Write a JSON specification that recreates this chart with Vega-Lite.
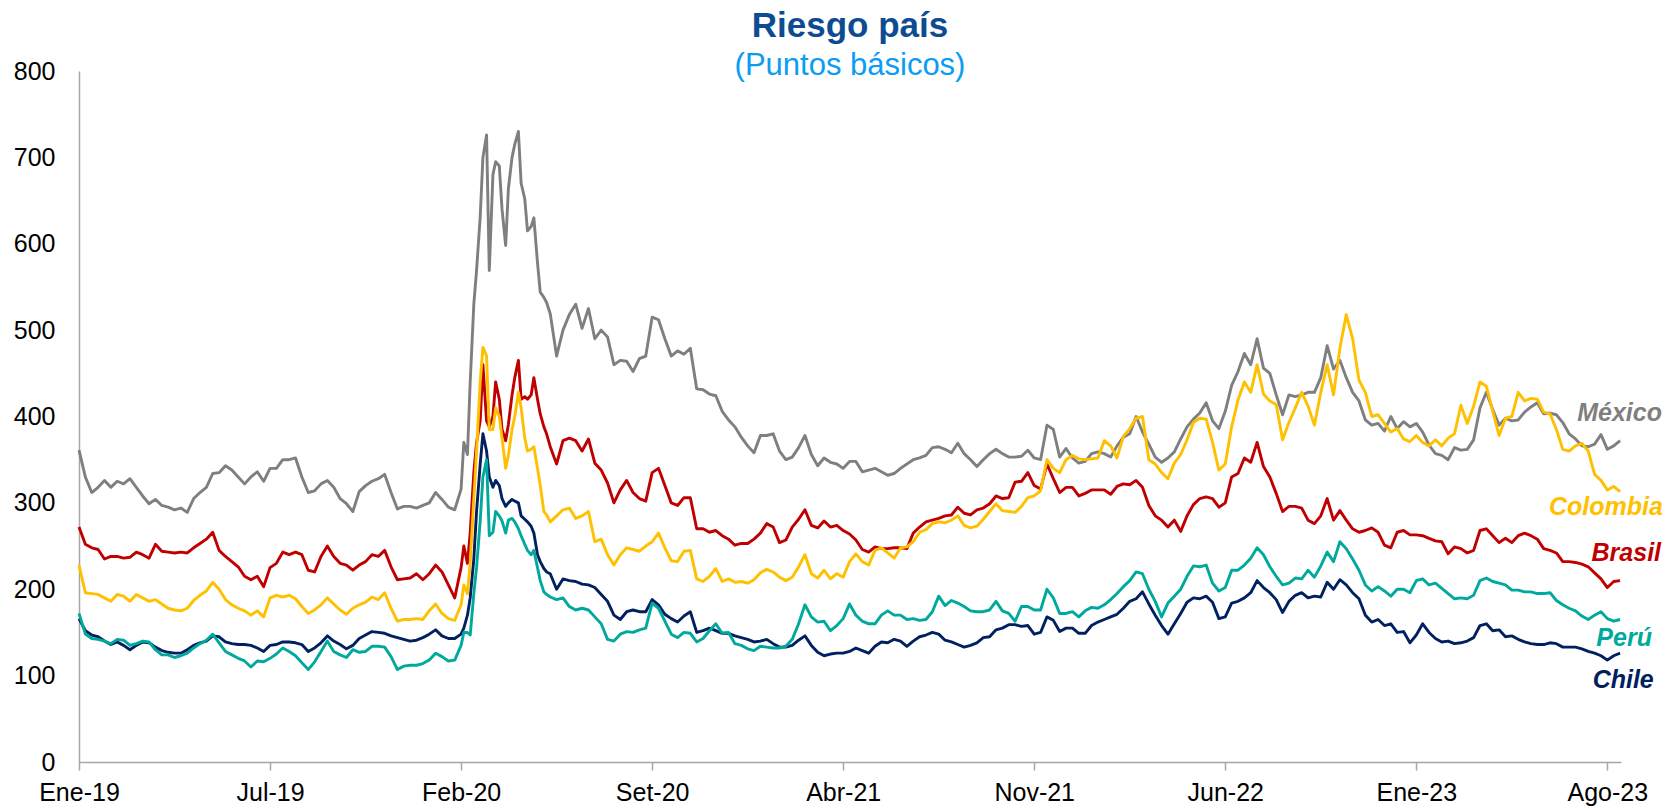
{
"$schema":"https://vega.github.io/schema/vega-lite/v6.json",
"width":1542,"height":691,
"autosize":"none",
"padding":{"left":79,"top":71,"right":46,"bottom":44},
"background":"white",
"config":{"view":{"stroke":null},"font":"Liberation Sans"},
"title":{"text":"Riesgo país","subtitle":"(Puntos básicos)","anchor":"middle","frame":"group","font":"Liberation Sans","fontSize":35,"fontWeight":"bold","color":"#0E4C92","subtitleFont":"Liberation Sans","subtitleFontSize":31,"subtitleColor":"#0B9CF4","subtitlePadding":7,"offset":-22},
"layer":[
{
"data":{"values":[
{"d":"2019-01-01","M":361,"C":228,"B":272,"P":172,"H":166},
{"d":"2019-01-08","M":330,"C":196,"B":252,"P":148,"H":152},
{"d":"2019-01-15","M":312,"C":195,"B":248,"P":143,"H":147},
{"d":"2019-01-22","M":318,"C":194,"B":246,"P":142,"H":145},
{"d":"2019-01-29","M":326,"C":190,"B":235,"P":140,"H":140},
{"d":"2019-02-05","M":318,"C":186,"B":238,"P":137,"H":136},
{"d":"2019-02-12","M":325,"C":194,"B":238,"P":142,"H":139},
{"d":"2019-02-19","M":322,"C":192,"B":236,"P":141,"H":135},
{"d":"2019-02-26","M":328,"C":186,"B":237,"P":135,"H":130},
{"d":"2019-03-05","M":318,"C":194,"B":243,"P":137,"H":135},
{"d":"2019-03-12","M":308,"C":190,"B":240,"P":140,"H":139},
{"d":"2019-03-19","M":299,"C":186,"B":236,"P":139,"H":138},
{"d":"2019-03-26","M":304,"C":188,"B":252,"P":130,"H":133},
{"d":"2019-04-02","M":297,"C":183,"B":244,"P":124,"H":129},
{"d":"2019-04-09","M":295,"C":178,"B":243,"P":124,"H":127},
{"d":"2019-04-16","M":292,"C":176,"B":242,"P":121,"H":126},
{"d":"2019-04-23","M":294,"C":175,"B":243,"P":123,"H":126},
{"d":"2019-04-30","M":289,"C":178,"B":242,"P":126,"H":130},
{"d":"2019-05-07","M":305,"C":187,"B":248,"P":132,"H":135},
{"d":"2019-05-14","M":312,"C":193,"B":253,"P":137,"H":138},
{"d":"2019-05-21","M":318,"C":198,"B":258,"P":141,"H":140},
{"d":"2019-05-28","M":334,"C":208,"B":266,"P":148,"H":146},
{"d":"2019-06-04","M":335,"C":200,"B":245,"P":138,"H":145},
{"d":"2019-06-11","M":343,"C":188,"B":238,"P":128,"H":139},
{"d":"2019-06-18","M":338,"C":182,"B":232,"P":124,"H":137},
{"d":"2019-06-25","M":330,"C":178,"B":226,"P":120,"H":136},
{"d":"2019-07-02","M":322,"C":175,"B":215,"P":117,"H":136},
{"d":"2019-07-09","M":330,"C":170,"B":211,"P":110,"H":135},
{"d":"2019-07-16","M":336,"C":175,"B":215,"P":117,"H":132},
{"d":"2019-07-23","M":325,"C":168,"B":203,"P":116,"H":128},
{"d":"2019-07-30","M":340,"C":190,"B":225,"P":120,"H":135},
{"d":"2019-08-06","M":340,"C":193,"B":230,"P":125,"H":136},
{"d":"2019-08-13","M":350,"C":191,"B":243,"P":132,"H":139},
{"d":"2019-08-20","M":350,"C":193,"B":240,"P":128,"H":139},
{"d":"2019-08-27","M":352,"C":189,"B":243,"P":123,"H":138},
{"d":"2019-09-03","M":330,"C":180,"B":240,"P":115,"H":136},
{"d":"2019-09-10","M":312,"C":172,"B":222,"P":107,"H":128},
{"d":"2019-09-17","M":314,"C":176,"B":220,"P":116,"H":132},
{"d":"2019-09-24","M":322,"C":182,"B":238,"P":128,"H":138},
{"d":"2019-10-01","M":326,"C":190,"B":250,"P":140,"H":146},
{"d":"2019-10-08","M":318,"C":183,"B":238,"P":128,"H":140},
{"d":"2019-10-15","M":305,"C":176,"B":230,"P":124,"H":136},
{"d":"2019-10-22","M":299,"C":171,"B":228,"P":121,"H":131},
{"d":"2019-10-29","M":290,"C":178,"B":222,"P":130,"H":135},
{"d":"2019-11-05","M":313,"C":182,"B":228,"P":127,"H":143},
{"d":"2019-11-12","M":320,"C":185,"B":232,"P":128,"H":147},
{"d":"2019-11-19","M":325,"C":191,"B":240,"P":134,"H":151},
{"d":"2019-11-26","M":328,"C":188,"B":238,"P":134,"H":150},
{"d":"2019-12-03","M":333,"C":196,"B":245,"P":133,"H":149},
{"d":"2019-12-10","M":312,"C":178,"B":226,"P":122,"H":146},
{"d":"2019-12-17","M":293,"C":163,"B":211,"P":107,"H":144},
{"d":"2019-12-24","M":296,"C":165,"B":212,"P":111,"H":142},
{"d":"2019-12-31","M":296,"C":165,"B":213,"P":112,"H":140},
{"d":"2020-01-07","M":294,"C":166,"B":218,"P":112,"H":141},
{"d":"2020-01-14","M":297,"C":165,"B":211,"P":114,"H":144},
{"d":"2020-01-21","M":300,"C":175,"B":218,"P":118,"H":148},
{"d":"2020-01-28","M":312,"C":183,"B":228,"P":126,"H":153},
{"d":"2020-02-04","M":304,"C":172,"B":220,"P":122,"H":146},
{"d":"2020-02-11","M":295,"C":166,"B":205,"P":117,"H":143},
{"d":"2020-02-18","M":292,"C":164,"B":190,"P":118,"H":143},
{"d":"2020-02-25","M":316,"C":182,"B":225,"P":135,"H":148},
{"d":"2020-02-28","M":370,"C":205,"B":250,"P":150,"H":155},
{"d":"2020-03-03","M":356,"C":195,"B":230,"P":150,"H":170},
{"d":"2020-03-06","M":440,"C":230,"B":265,"P":147,"H":190},
{"d":"2020-03-10","M":530,"C":305,"B":335,"P":195,"H":235},
{"d":"2020-03-13","M":569,"C":360,"B":370,"P":225,"H":290},
{"d":"2020-03-17","M":631,"C":440,"B":395,"P":279,"H":345},
{"d":"2020-03-20","M":700,"C":480,"B":460,"P":330,"H":380},
{"d":"2020-03-24","M":726,"C":470,"B":395,"P":350,"H":360},
{"d":"2020-03-27","M":569,"C":385,"B":388,"P":262,"H":330},
{"d":"2020-03-31","M":680,"C":385,"B":400,"P":266,"H":318},
{"d":"2020-04-03","M":695,"C":410,"B":440,"P":290,"H":326},
{"d":"2020-04-07","M":690,"C":400,"B":420,"P":285,"H":320},
{"d":"2020-04-10","M":640,"C":375,"B":385,"P":279,"H":305},
{"d":"2020-04-14","M":598,"C":340,"B":372,"P":265,"H":296},
{"d":"2020-04-17","M":664,"C":355,"B":391,"P":280,"H":300},
{"d":"2020-04-21","M":700,"C":385,"B":425,"P":282,"H":304},
{"d":"2020-04-24","M":715,"C":400,"B":445,"P":278,"H":302},
{"d":"2020-04-28","M":730,"C":428,"B":465,"P":270,"H":300},
{"d":"2020-05-01","M":670,"C":410,"B":420,"P":262,"H":285},
{"d":"2020-05-05","M":652,"C":375,"B":423,"P":252,"H":281},
{"d":"2020-05-08","M":615,"C":360,"B":420,"P":245,"H":278},
{"d":"2020-05-12","M":620,"C":362,"B":425,"P":240,"H":273},
{"d":"2020-05-15","M":630,"C":365,"B":445,"P":245,"H":265},
{"d":"2020-05-19","M":578,"C":340,"B":420,"P":225,"H":240},
{"d":"2020-05-22","M":544,"C":320,"B":403,"P":210,"H":232},
{"d":"2020-05-26","M":538,"C":290,"B":388,"P":197,"H":224},
{"d":"2020-05-29","M":532,"C":286,"B":380,"P":194,"H":220},
{"d":"2020-06-02","M":519,"C":278,"B":365,"P":191,"H":218},
{"d":"2020-06-09","M":470,"C":285,"B":345,"P":188,"H":200},
{"d":"2020-06-16","M":500,"C":292,"B":372,"P":190,"H":212},
{"d":"2020-06-23","M":518,"C":294,"B":375,"P":180,"H":210},
{"d":"2020-06-30","M":530,"C":282,"B":372,"P":176,"H":209},
{"d":"2020-07-07","M":502,"C":285,"B":360,"P":178,"H":206},
{"d":"2020-07-14","M":525,"C":290,"B":374,"P":176,"H":205},
{"d":"2020-07-21","M":490,"C":255,"B":346,"P":168,"H":202},
{"d":"2020-07-28","M":500,"C":258,"B":338,"P":160,"H":194},
{"d":"2020-08-04","M":492,"C":240,"B":323,"P":142,"H":186},
{"d":"2020-08-11","M":460,"C":228,"B":300,"P":140,"H":170},
{"d":"2020-08-18","M":465,"C":240,"B":315,"P":148,"H":165},
{"d":"2020-08-25","M":464,"C":248,"B":326,"P":151,"H":174},
{"d":"2020-09-01","M":452,"C":246,"B":312,"P":150,"H":176},
{"d":"2020-09-08","M":467,"C":244,"B":305,"P":153,"H":174},
{"d":"2020-09-15","M":470,"C":250,"B":302,"P":155,"H":174},
{"d":"2020-09-22","M":515,"C":255,"B":335,"P":184,"H":188},
{"d":"2020-09-29","M":512,"C":265,"B":340,"P":178,"H":182},
{"d":"2020-10-06","M":490,"C":248,"B":320,"P":163,"H":171},
{"d":"2020-10-13","M":470,"C":233,"B":300,"P":148,"H":166},
{"d":"2020-10-20","M":476,"C":232,"B":297,"P":144,"H":162},
{"d":"2020-10-27","M":472,"C":244,"B":306,"P":150,"H":169},
{"d":"2020-11-03","M":479,"C":245,"B":306,"P":149,"H":174},
{"d":"2020-11-10","M":432,"C":212,"B":270,"P":139,"H":150},
{"d":"2020-11-17","M":431,"C":209,"B":270,"P":143,"H":152},
{"d":"2020-11-24","M":426,"C":215,"B":266,"P":152,"H":155},
{"d":"2020-12-01","M":424,"C":224,"B":268,"P":160,"H":152},
{"d":"2020-12-08","M":406,"C":209,"B":262,"P":149,"H":149},
{"d":"2020-12-15","M":396,"C":212,"B":258,"P":150,"H":149},
{"d":"2020-12-22","M":388,"C":208,"B":251,"P":137,"H":146},
{"d":"2020-12-29","M":376,"C":209,"B":253,"P":135,"H":144},
{"d":"2021-01-05","M":366,"C":207,"B":253,"P":131,"H":142},
{"d":"2021-01-12","M":358,"C":211,"B":258,"P":129,"H":139},
{"d":"2021-01-19","M":378,"C":219,"B":265,"P":134,"H":140},
{"d":"2021-01-26","M":378,"C":223,"B":276,"P":133,"H":142},
{"d":"2021-02-02","M":380,"C":220,"B":272,"P":132,"H":137},
{"d":"2021-02-09","M":360,"C":214,"B":254,"P":132,"H":133},
{"d":"2021-02-16","M":350,"C":210,"B":257,"P":134,"H":133},
{"d":"2021-02-23","M":353,"C":214,"B":272,"P":142,"H":135},
{"d":"2021-03-02","M":364,"C":226,"B":281,"P":160,"H":141},
{"d":"2021-03-09","M":378,"C":240,"B":292,"P":182,"H":146},
{"d":"2021-03-16","M":356,"C":218,"B":274,"P":168,"H":135},
{"d":"2021-03-23","M":343,"C":213,"B":271,"P":162,"H":127},
{"d":"2021-03-30","M":352,"C":222,"B":279,"P":163,"H":123},
{"d":"2021-04-06","M":347,"C":212,"B":272,"P":152,"H":125},
{"d":"2021-04-13","M":345,"C":218,"B":274,"P":158,"H":126},
{"d":"2021-04-20","M":340,"C":214,"B":268,"P":166,"H":126},
{"d":"2021-04-27","M":348,"C":232,"B":264,"P":183,"H":128},
{"d":"2021-05-04","M":348,"C":241,"B":257,"P":170,"H":132},
{"d":"2021-05-11","M":336,"C":232,"B":246,"P":163,"H":129},
{"d":"2021-05-18","M":338,"C":228,"B":243,"P":160,"H":126},
{"d":"2021-05-25","M":340,"C":245,"B":249,"P":160,"H":134},
{"d":"2021-06-01","M":336,"C":248,"B":247,"P":170,"H":139},
{"d":"2021-06-08","M":332,"C":242,"B":247,"P":175,"H":138},
{"d":"2021-06-15","M":334,"C":236,"B":248,"P":170,"H":142},
{"d":"2021-06-22","M":340,"C":248,"B":248,"P":170,"H":140},
{"d":"2021-06-29","M":345,"C":249,"B":247,"P":165,"H":134},
{"d":"2021-07-06","M":350,"C":255,"B":265,"P":166,"H":140},
{"d":"2021-07-13","M":352,"C":266,"B":272,"P":164,"H":145},
{"d":"2021-07-20","M":355,"C":269,"B":278,"P":165,"H":147},
{"d":"2021-07-27","M":364,"C":276,"B":280,"P":174,"H":150},
{"d":"2021-08-03","M":365,"C":278,"B":282,"P":192,"H":148},
{"d":"2021-08-10","M":362,"C":277,"B":285,"P":181,"H":141},
{"d":"2021-08-17","M":358,"C":280,"B":286,"P":187,"H":139},
{"d":"2021-08-24","M":369,"C":285,"B":295,"P":184,"H":136},
{"d":"2021-08-31","M":357,"C":274,"B":288,"P":180,"H":133},
{"d":"2021-09-07","M":350,"C":271,"B":286,"P":175,"H":135},
{"d":"2021-09-14","M":342,"C":273,"B":292,"P":174,"H":138},
{"d":"2021-09-21","M":350,"C":281,"B":294,"P":174,"H":144},
{"d":"2021-09-28","M":357,"C":290,"B":299,"P":176,"H":145},
{"d":"2021-10-05","M":362,"C":299,"B":308,"P":186,"H":153},
{"d":"2021-10-12","M":357,"C":291,"B":305,"P":175,"H":155},
{"d":"2021-10-19","M":353,"C":290,"B":306,"P":172,"H":159},
{"d":"2021-10-26","M":353,"C":289,"B":324,"P":163,"H":159},
{"d":"2021-11-02","M":354,"C":296,"B":325,"P":180,"H":157},
{"d":"2021-11-09","M":361,"C":306,"B":335,"P":180,"H":158},
{"d":"2021-11-16","M":352,"C":308,"B":320,"P":176,"H":148},
{"d":"2021-11-23","M":350,"C":314,"B":316,"P":176,"H":150},
{"d":"2021-11-30","M":390,"C":350,"B":345,"P":200,"H":168},
{"d":"2021-12-07","M":385,"C":340,"B":328,"P":190,"H":164},
{"d":"2021-12-14","M":353,"C":335,"B":312,"P":172,"H":151},
{"d":"2021-12-21","M":363,"C":350,"B":318,"P":172,"H":155},
{"d":"2021-12-28","M":352,"C":355,"B":318,"P":174,"H":155},
{"d":"2022-01-04","M":346,"C":351,"B":308,"P":168,"H":149},
{"d":"2022-01-11","M":348,"C":350,"B":311,"P":175,"H":149},
{"d":"2022-01-18","M":357,"C":351,"B":315,"P":179,"H":158},
{"d":"2022-01-25","M":359,"C":352,"B":315,"P":178,"H":162},
{"d":"2022-02-01","M":357,"C":372,"B":315,"P":182,"H":165},
{"d":"2022-02-08","M":353,"C":366,"B":310,"P":188,"H":168},
{"d":"2022-02-15","M":366,"C":352,"B":319,"P":195,"H":171},
{"d":"2022-02-22","M":376,"C":377,"B":322,"P":203,"H":178},
{"d":"2022-03-01","M":380,"C":386,"B":321,"P":210,"H":186},
{"d":"2022-03-08","M":400,"C":398,"B":326,"P":220,"H":189},
{"d":"2022-03-15","M":382,"C":400,"B":318,"P":218,"H":197},
{"d":"2022-03-22","M":368,"C":350,"B":297,"P":200,"H":183},
{"d":"2022-03-29","M":353,"C":345,"B":285,"P":186,"H":170},
{"d":"2022-04-05","M":347,"C":335,"B":280,"P":168,"H":158},
{"d":"2022-04-12","M":352,"C":328,"B":272,"P":184,"H":148},
{"d":"2022-04-19","M":359,"C":346,"B":280,"P":192,"H":160},
{"d":"2022-04-26","M":374,"C":356,"B":267,"P":200,"H":172},
{"d":"2022-05-03","M":388,"C":373,"B":285,"P":215,"H":185},
{"d":"2022-05-10","M":397,"C":393,"B":298,"P":227,"H":190},
{"d":"2022-05-17","M":404,"C":398,"B":305,"P":226,"H":189},
{"d":"2022-05-24","M":416,"C":397,"B":307,"P":228,"H":192},
{"d":"2022-05-31","M":395,"C":370,"B":305,"P":207,"H":185},
{"d":"2022-06-07","M":386,"C":338,"B":295,"P":198,"H":166},
{"d":"2022-06-14","M":406,"C":345,"B":300,"P":202,"H":168},
{"d":"2022-06-21","M":436,"C":388,"B":330,"P":222,"H":184},
{"d":"2022-06-28","M":452,"C":419,"B":334,"P":222,"H":186},
{"d":"2022-07-05","M":473,"C":440,"B":352,"P":228,"H":190},
{"d":"2022-07-12","M":460,"C":428,"B":347,"P":236,"H":196},
{"d":"2022-07-19","M":490,"C":460,"B":370,"P":248,"H":210},
{"d":"2022-07-26","M":456,"C":426,"B":342,"P":240,"H":202},
{"d":"2022-08-02","M":450,"C":418,"B":330,"P":226,"H":196},
{"d":"2022-08-09","M":425,"C":414,"B":311,"P":215,"H":188},
{"d":"2022-08-16","M":402,"C":373,"B":290,"P":205,"H":173},
{"d":"2022-08-23","M":425,"C":393,"B":296,"P":207,"H":186},
{"d":"2022-08-30","M":423,"C":410,"B":296,"P":213,"H":193},
{"d":"2022-09-06","M":425,"C":428,"B":294,"P":212,"H":196},
{"d":"2022-09-13","M":428,"C":412,"B":280,"P":222,"H":190},
{"d":"2022-09-20","M":428,"C":390,"B":276,"P":214,"H":192},
{"d":"2022-09-27","M":445,"C":428,"B":285,"P":227,"H":191},
{"d":"2022-10-04","M":482,"C":460,"B":305,"P":243,"H":208},
{"d":"2022-10-11","M":455,"C":425,"B":280,"P":232,"H":200},
{"d":"2022-10-18","M":465,"C":479,"B":291,"P":255,"H":211},
{"d":"2022-10-25","M":445,"C":518,"B":280,"P":247,"H":205},
{"d":"2022-11-01","M":428,"C":490,"B":270,"P":235,"H":196},
{"d":"2022-11-08","M":418,"C":442,"B":266,"P":222,"H":189},
{"d":"2022-11-15","M":396,"C":428,"B":268,"P":205,"H":170},
{"d":"2022-11-22","M":390,"C":400,"B":271,"P":198,"H":162},
{"d":"2022-11-29","M":392,"C":402,"B":266,"P":203,"H":165},
{"d":"2022-12-06","M":383,"C":392,"B":251,"P":198,"H":158},
{"d":"2022-12-13","M":400,"C":382,"B":248,"P":192,"H":160},
{"d":"2022-12-20","M":386,"C":386,"B":266,"P":200,"H":150},
{"d":"2022-12-27","M":394,"C":374,"B":268,"P":200,"H":151},
{"d":"2023-01-03","M":388,"C":371,"B":263,"P":196,"H":138},
{"d":"2023-01-10","M":392,"C":378,"B":263,"P":210,"H":147},
{"d":"2023-01-17","M":382,"C":370,"B":262,"P":212,"H":160},
{"d":"2023-01-24","M":367,"C":366,"B":259,"P":205,"H":150},
{"d":"2023-01-31","M":357,"C":373,"B":256,"P":207,"H":143},
{"d":"2023-02-07","M":355,"C":366,"B":255,"P":201,"H":139},
{"d":"2023-02-14","M":350,"C":375,"B":241,"P":195,"H":140},
{"d":"2023-02-21","M":364,"C":380,"B":249,"P":189,"H":137},
{"d":"2023-02-28","M":361,"C":413,"B":247,"P":190,"H":138},
{"d":"2023-03-07","M":362,"C":392,"B":242,"P":189,"H":140},
{"d":"2023-03-14","M":373,"C":412,"B":245,"P":193,"H":144},
{"d":"2023-03-21","M":410,"C":440,"B":268,"P":210,"H":158},
{"d":"2023-03-28","M":428,"C":435,"B":270,"P":213,"H":160},
{"d":"2023-04-04","M":408,"C":406,"B":262,"P":209,"H":152},
{"d":"2023-04-11","M":390,"C":378,"B":254,"P":207,"H":153},
{"d":"2023-04-18","M":398,"C":398,"B":259,"P":205,"H":145},
{"d":"2023-04-25","M":395,"C":400,"B":254,"P":199,"H":146},
{"d":"2023-05-02","M":396,"C":428,"B":262,"P":199,"H":142},
{"d":"2023-05-09","M":405,"C":418,"B":265,"P":197,"H":139},
{"d":"2023-05-16","M":411,"C":421,"B":262,"P":197,"H":137},
{"d":"2023-05-23","M":416,"C":420,"B":258,"P":195,"H":136},
{"d":"2023-05-30","M":403,"C":405,"B":247,"P":195,"H":136},
{"d":"2023-06-06","M":404,"C":403,"B":245,"P":196,"H":138},
{"d":"2023-06-13","M":402,"C":385,"B":242,"P":187,"H":137},
{"d":"2023-06-20","M":393,"C":362,"B":232,"P":182,"H":133},
{"d":"2023-06-27","M":380,"C":360,"B":232,"P":178,"H":133},
{"d":"2023-07-04","M":374,"C":366,"B":231,"P":175,"H":133},
{"d":"2023-07-11","M":366,"C":369,"B":229,"P":169,"H":131},
{"d":"2023-07-18","M":365,"C":360,"B":226,"P":165,"H":128},
{"d":"2023-07-25","M":368,"C":333,"B":219,"P":170,"H":126},
{"d":"2023-08-01","M":379,"C":326,"B":212,"P":174,"H":123},
{"d":"2023-08-08","M":362,"C":315,"B":202,"P":166,"H":118},
{"d":"2023-08-15","M":366,"C":319,"B":209,"P":163,"H":123},
{"d":"2023-08-22","M":372,"C":313,"B":210,"P":165,"H":126}
]},
"transform":[{"fold":["H","B","M","C","P"],"as":["s","v"]}],
"mark":{"type":"line","strokeWidth":2.9,"interpolate":"linear","strokeJoin":"round"},
"encoding":{
"x":{"field":"d","type":"temporal","scale":{"type":"utc","domain":[{"year":2019,"month":1,"date":1,"utc":true},{"year":2023,"month":8,"date":23,"utc":true}]},
"axis":{"title":null,"grid":false,"values":[{"year":2019,"month":1,"date":1,"utc":true},{"year":2019,"month":7,"date":30,"utc":true},{"year":2020,"month":2,"date":25,"utc":true},{"year":2020,"month":9,"date":22,"utc":true},{"year":2021,"month":4,"date":20,"utc":true},{"year":2021,"month":11,"date":16,"utc":true},{"year":2022,"month":6,"date":14,"utc":true},{"year":2023,"month":1,"date":10,"utc":true},{"year":2023,"month":8,"date":8,"utc":true}],
"labelExpr":"['Ene','Feb','Mar','Abr','May','Jun','Jul','Ago','Set','Oct','Nov','Dic'][utcmonth(datum.value)] + '-' + utcFormat(datum.value, '%y')",
"labelFont":"Liberation Sans","labelFontSize":25,"labelColor":"#000000","labelPadding":10,"labelFlush":false,"labelOverlap":false,
"domainColor":"#A6A6A6","domainWidth":1.5,"tickColor":"#A6A6A6","tickWidth":1.5,"tickSize":8}},
"y":{"field":"v","type":"quantitative","scale":{"domain":[0,800],"nice":false},
"axis":{"title":null,"grid":false,"ticks":false,"values":[0,100,200,300,400,500,600,700,800],"labelFont":"Liberation Sans","labelFontSize":25,"labelColor":"#000000","labelPadding":24,"domainColor":"#A6A6A6","domainWidth":1.5}},
"color":{"field":"s","type":"nominal","scale":{"domain":["M","C","B","P","H"],"range":["#7F7F7F","#FFC000","#C00000","#00A99D","#002060"]},"legend":null}
}
},
{
"data":{"values":[
{"t":"México","s":"M","d":"2023-10-07","v":404},
{"t":"Colombia","s":"C","d":"2023-10-08","v":295},
{"t":"Brasil","s":"B","d":"2023-10-06","v":242},
{"t":"Perú","s":"P","d":"2023-09-26","v":144},
{"t":"Chile","s":"H","d":"2023-09-28","v":95}
]},
"mark":{"type":"text","align":"right","baseline":"middle","font":"Liberation Sans","fontSize":25,"fontWeight":"bold","fontStyle":"italic"},
"encoding":{
"x":{"field":"d","type":"temporal"},
"y":{"field":"v","type":"quantitative"},
"text":{"field":"t"},
"color":{"field":"s","type":"nominal","legend":null}
}
}
]
}
